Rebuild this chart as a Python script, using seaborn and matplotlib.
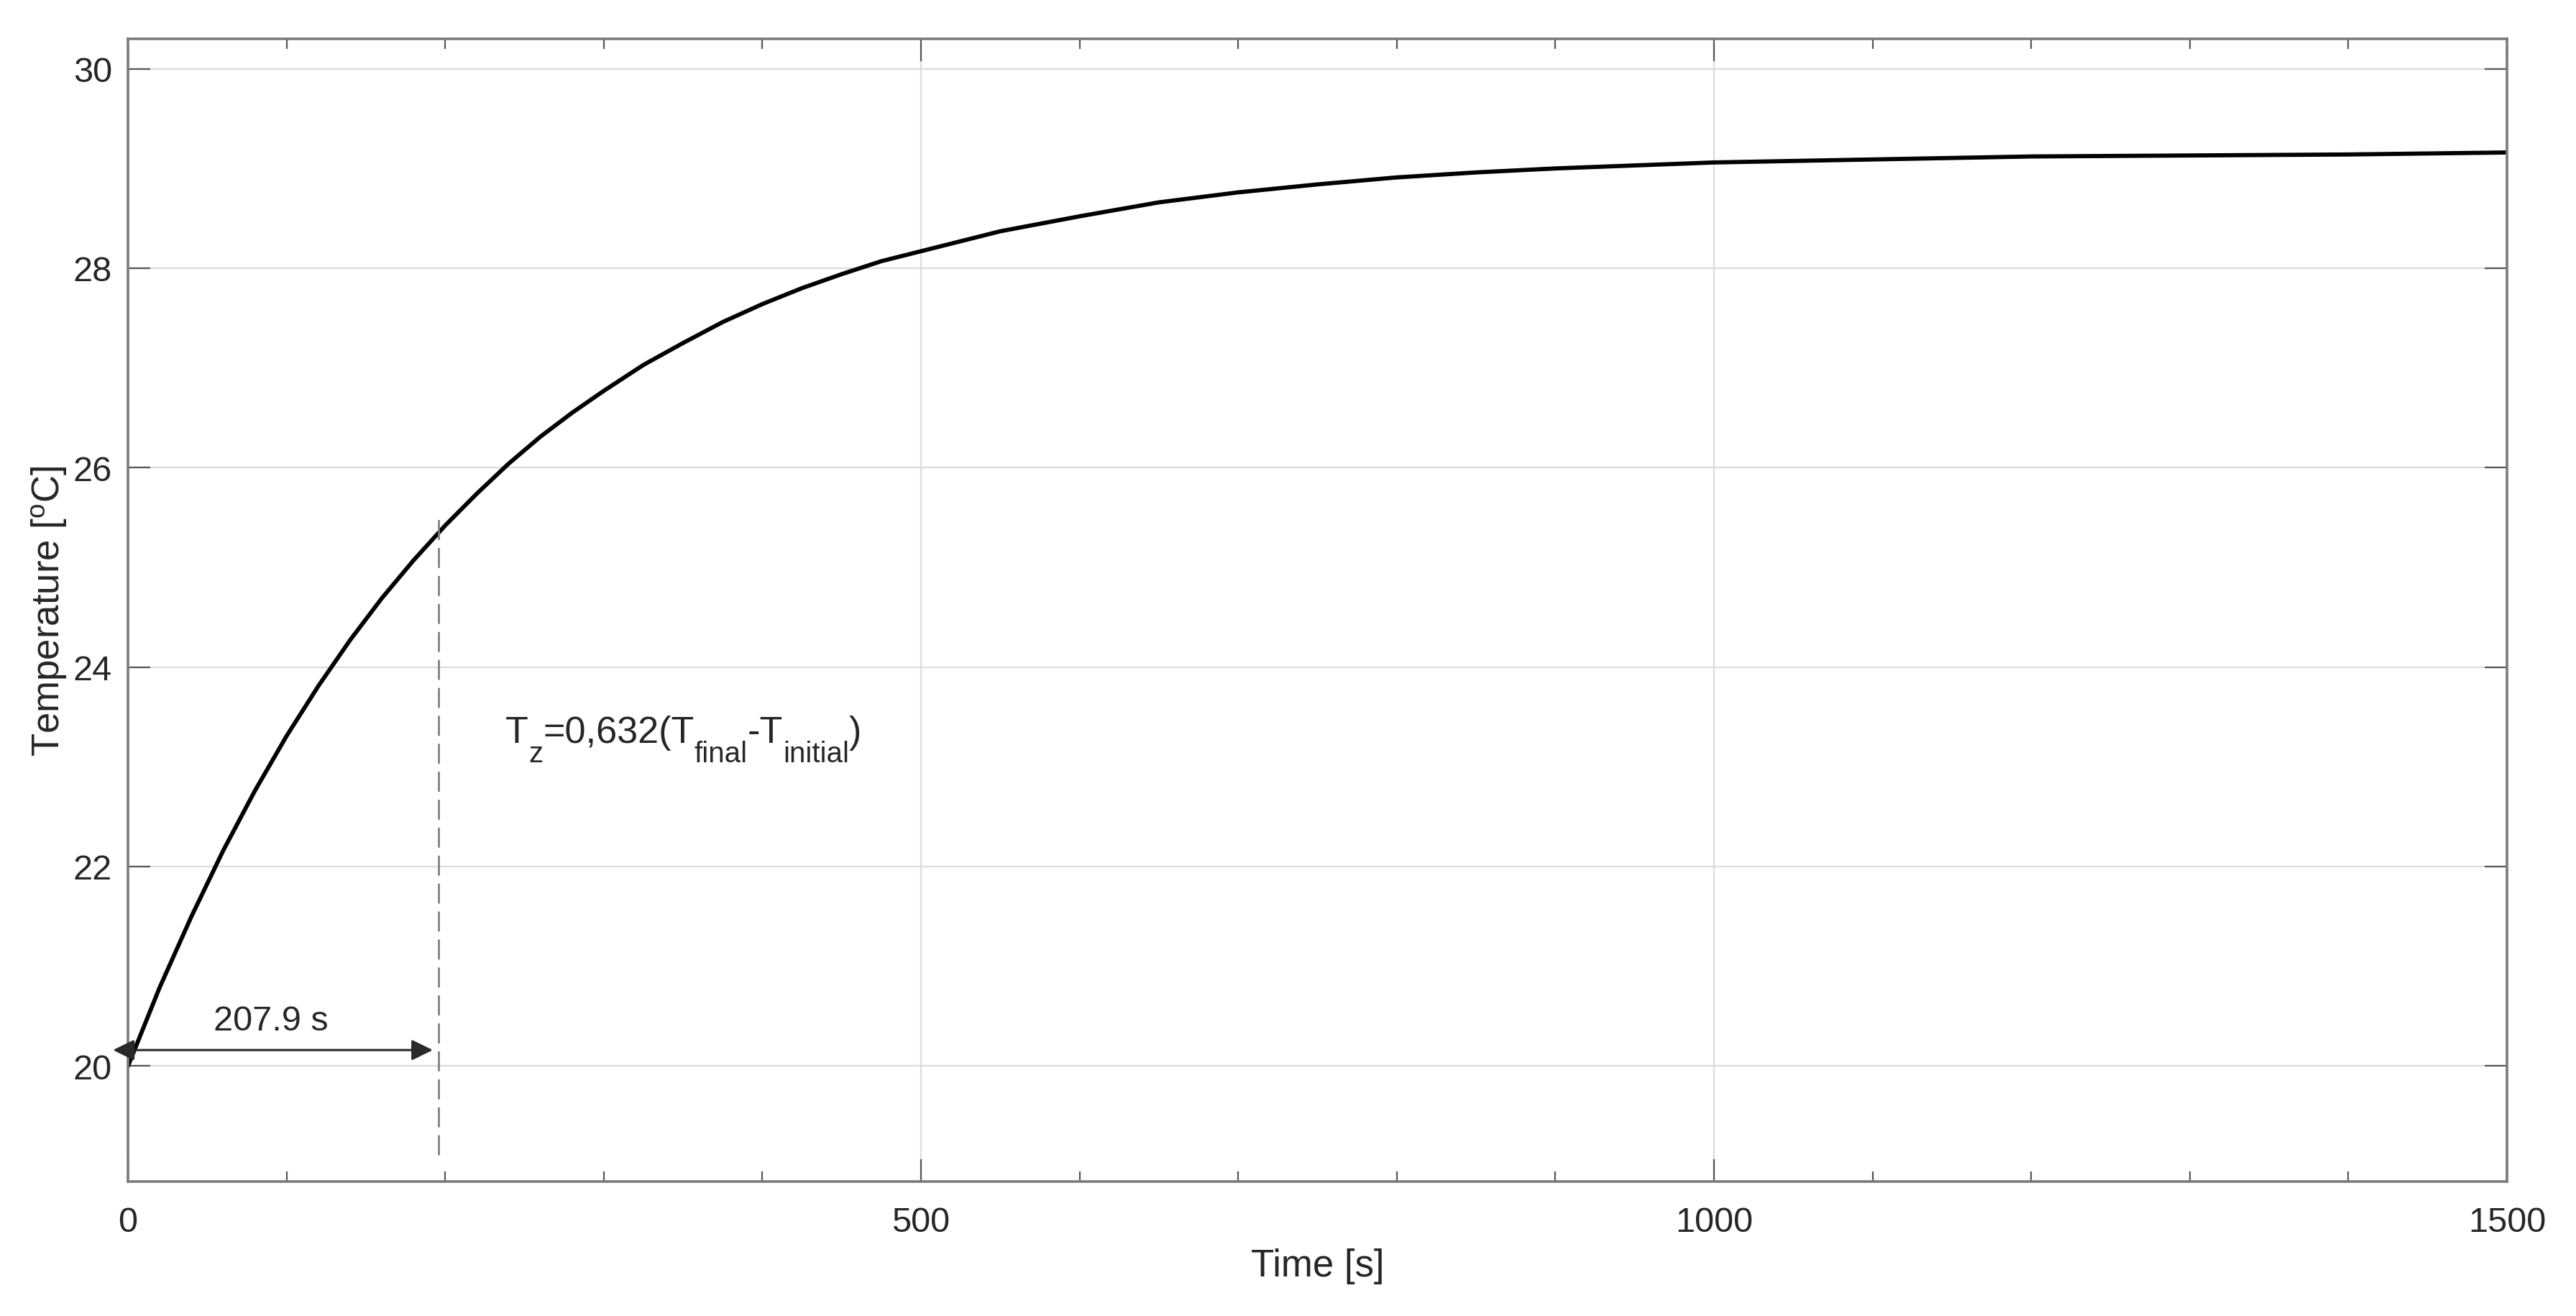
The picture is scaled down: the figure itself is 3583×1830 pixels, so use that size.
import numpy as np
import pandas as pd
import matplotlib
matplotlib.use('Agg')
import matplotlib.pyplot as plt
from matplotlib.ticker import MultipleLocator
import seaborn as sns

# Values
time_s = [0, 20, 40, 60, 80, 100, 120, 140, 160, 180, 200, 220, 240, 260, 280, 300,
          325, 350, 375, 400, 425, 450, 475, 500, 550, 600, 650, 700, 750, 800, 850,
          900, 950, 1000, 1100, 1200, 1300, 1400, 1500]
temp_c = [20.00, 20.79, 21.50, 22.16, 22.76, 23.31, 23.81, 24.27, 24.69, 25.07, 25.42,
          25.74, 26.04, 26.31, 26.55, 26.77, 27.03, 27.25, 27.46, 27.64, 27.80, 27.94,
          28.07, 28.17, 28.37, 28.52, 28.66, 28.76, 28.84, 28.91, 28.96, 29.00, 29.03,
          29.06, 29.09, 29.12, 29.13, 29.14, 29.16]

# time-constant marker (dashed line + arrow) and labels
tau_line_t = [195.8]
tau_line_y = [19.11, 25.54]
arrow_t = [-9.5, 192.2]
arrow_y = 20.16
tau_label = '207.9 s'
tau_label_pos = (90.2, 20.36)
# formula pieces: (text, is_subscript)
formula_parts = [('T', False), ('z', True), ('=0,632(T', False), ('final', True),
                 ('-T', False), ('initial', True), (')', False)]
formula_pos = (238.0, 23.25)

x_major = [0, 500, 1000, 1500]
y_major = [20, 22, 24, 26, 28, 30]

df = pd.DataFrame({'time': time_s, 'temp': temp_c})

sns.set_theme(style='white')
plt.rcParams['font.family'] = ['Liberation Sans', 'DejaVu Sans']
plt.rcParams['mathtext.fontset'] = 'custom'
plt.rcParams['mathtext.rm'] = 'Liberation Sans'
plt.rcParams['mathtext.default'] = 'regular'

fs = 17.5
fig = plt.figure(figsize=(3583 / 200, 1831 / 200), dpi=200)
ax = fig.add_axes([0.0497, 0.102, 0.9235, 0.868])

ax.set_axisbelow(True)
ax.grid(True, which='major', color='#dcdcdc', lw=0.8)

sns.lineplot(data=df, x='time', y='temp', ax=ax, color='black', lw=2.1)

# dashed time-constant line
ax.vlines(tau_line_t, tau_line_y[0], tau_line_y[1], colors='#808080', lw=1.0,
          linestyles=(0, (10, 4)))

# double arrow
ax.annotate('', xy=(arrow_t[0], arrow_y), xytext=(arrow_t[1], arrow_y),
            arrowprops=dict(arrowstyle='<|-|>,head_length=0.45,head_width=0.22',
                            color='#2a2a2a', lw=1.1, shrinkA=0, shrinkB=0,
                            mutation_scale=20),
            annotation_clip=False)

ax.text(tau_label_pos[0], tau_label_pos[1], tau_label, fontsize=fs,
        ha='center', va='baseline')

# formula, built piece by piece so the subscripts sit low like in the original
prev = ax.text(formula_pos[0], formula_pos[1], formula_parts[0][0], fontsize=18.8,
               ha='left', va='baseline')
for txt, sub in formula_parts[1:]:
    prev = ax.annotate(txt, xy=(1, formula_pos[1]), xycoords=(prev, 'data'),
                       xytext=(0, -10 if sub else 0), textcoords='offset points',
                       fontsize=14.5 if sub else 18.8, ha='left', va='baseline')

ax.set_xlim(0, 1500)
ax.set_ylim(18.84, 30.30)
ax.set_xticks(x_major)
ax.set_yticks(y_major)
ax.xaxis.set_minor_locator(MultipleLocator(100))

ax.tick_params(which='both', direction='in', top=True, right=True, bottom=True, left=True,
               color='#555555', labelsize=fs)
ax.tick_params(which='major', length=11, width=0.8)
ax.tick_params(which='minor', length=5, width=0.8)
ax.tick_params(axis='x', pad=12)
ax.tick_params(axis='y', pad=8)

for sp in ax.spines.values():
    sp.set_visible(True)
    sp.set_color('#7a7a7a')
    sp.set_linewidth(1.3)

ax.set_xlabel('Time [s]', fontsize=19, labelpad=5)
ax.set_ylabel('Temperature [$^{o}$C]', fontsize=19, labelpad=2)

fig.savefig('out.png', dpi=200, facecolor='white')
